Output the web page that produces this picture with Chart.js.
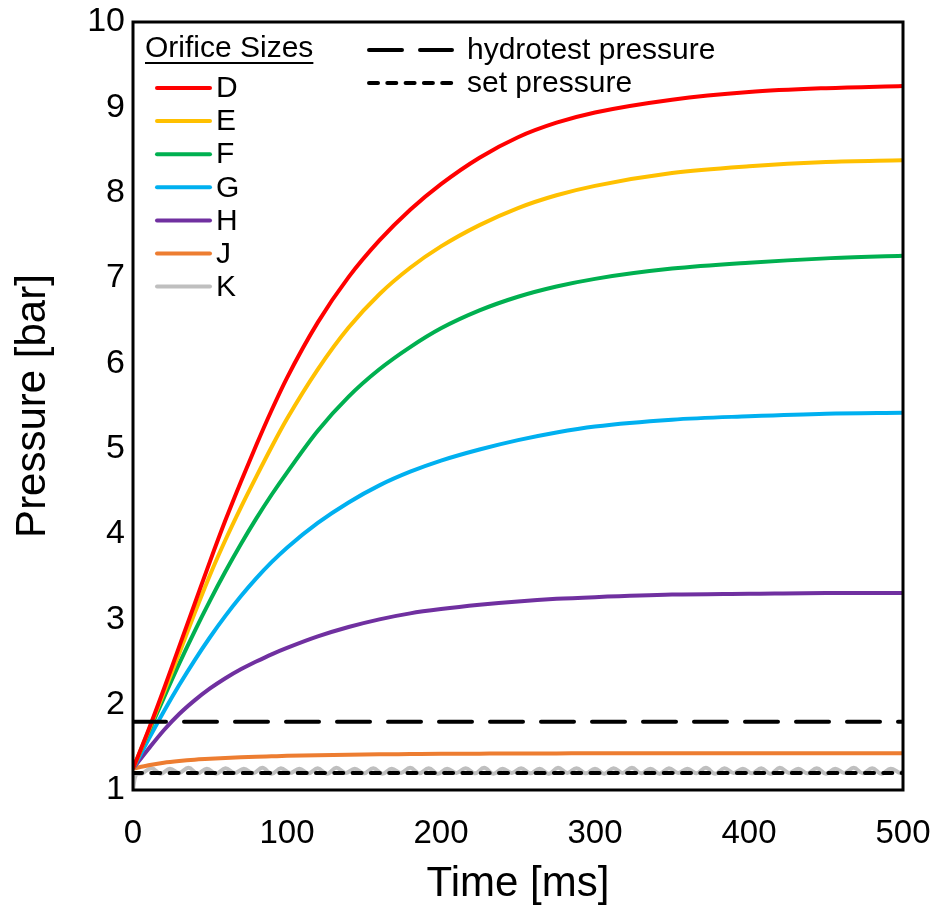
<!DOCTYPE html>
<html>
<head>
<meta charset="utf-8">
<script src="https://cdn.jsdelivr.net/npm/chart.js@4.4.1/dist/chart.umd.min.js"></script>
<style>
  html, body { margin: 0; padding: 0; background: #fff; }
  #wrap { width: 938px; height: 920px; }
</style>
</head>
<body>
<div id="wrap"><canvas id="c" width="938" height="920"></canvas></div>
<script>
// ---- data ----
const timeMs = [0, 10, 20, 30, 40, 50, 60, 70, 80, 90, 100, 120, 140, 160, 180, 200, 225, 250, 275, 300, 350, 400, 450, 500];
const orificeD = [1.25, 1.70, 2.18, 2.68, 3.18, 3.68, 4.16, 4.61, 5.04, 5.45, 5.83, 6.48, 7.01, 7.44, 7.80, 8.10, 8.41, 8.65, 8.82, 8.94, 9.09, 9.18, 9.225, 9.25];
const orificeE = [1.25, 1.69, 2.14, 2.60, 3.07, 3.52, 3.93, 4.31, 4.67, 5.02, 5.35, 5.93, 6.42, 6.81, 7.12, 7.37, 7.62, 7.82, 7.97, 8.08, 8.23, 8.31, 8.36, 8.38];
const orificeF = [1.25, 1.67, 2.08, 2.48, 2.86, 3.22, 3.56, 3.88, 4.18, 4.46, 4.72, 5.21, 5.61, 5.93, 6.19, 6.41, 6.62, 6.78, 6.90, 6.99, 7.11, 7.18, 7.23, 7.26];
const orificeG = [1.25, 1.59, 1.92, 2.23, 2.52, 2.79, 3.04, 3.27, 3.48, 3.67, 3.84, 4.13, 4.37, 4.57, 4.73, 4.86, 4.99, 5.10, 5.19, 5.26, 5.34, 5.38, 5.41, 5.42];
const orificeH = [1.25, 1.48, 1.70, 1.89, 2.05, 2.19, 2.31, 2.415, 2.505, 2.59, 2.665, 2.80, 2.91, 3.00, 3.07, 3.12, 3.17, 3.21, 3.24, 3.26, 3.29, 3.30, 3.31, 3.31];
const orificeJ = [1.25, 1.29, 1.32, 1.34, 1.355, 1.365, 1.375, 1.383, 1.39, 1.395, 1.4, 1.408, 1.414, 1.418, 1.421, 1.424, 1.426, 1.428, 1.429, 1.43, 1.43, 1.43, 1.43, 1.43];
const timeK = [0, 2, 6, 12, 18, 24, 30, 36, 42, 48, 54, 60, 66, 72, 78, 84, 90, 96, 102, 108, 114, 120, 126, 132, 138, 144, 150, 156, 162, 168, 174, 180, 186, 192, 198, 204, 210, 216, 222, 228, 234, 240, 246, 252, 258, 264, 270, 276, 282, 288, 294, 300, 306, 312, 318, 324, 330, 336, 342, 348, 354, 360, 366, 372, 378, 384, 390, 396, 402, 408, 414, 420, 426, 432, 438, 444, 450, 456, 462, 468, 474, 480, 486, 492, 498, 500];
const orificeK = [1.0, 1.18,
  1.195, 1.255, 1.19, 1.25, 1.2, 1.26, 1.195, 1.25, 1.19, 1.255,
  1.2, 1.25, 1.195, 1.26, 1.19, 1.255, 1.2, 1.25, 1.195, 1.255,
  1.19, 1.26, 1.2, 1.25, 1.195, 1.255, 1.19, 1.25, 1.2, 1.26,
  1.195, 1.255, 1.19, 1.25, 1.2, 1.255, 1.195, 1.26, 1.19, 1.25,
  1.2, 1.255, 1.195, 1.25, 1.19, 1.26, 1.2, 1.255, 1.195, 1.25,
  1.19, 1.255, 1.2, 1.26, 1.195, 1.25, 1.19, 1.255, 1.2, 1.25,
  1.195, 1.26, 1.19, 1.255, 1.2, 1.25, 1.195, 1.255, 1.19, 1.26,
  1.2, 1.25, 1.195, 1.255, 1.19, 1.25, 1.2, 1.26, 1.195, 1.255,
  1.19, 1.25, 1.2,
  1.22];
const refTime = [0, 500];
const hydrotestPressure = [1.8, 1.8];
const setPressure = [1.2, 1.2];
const xTicks = [0, 100, 200, 300, 400, 500];
const yTicks = [1, 2, 3, 4, 5, 6, 7, 8, 9, 10];
const orificeNames = ['D', 'E', 'F', 'G', 'H', 'J', 'K'];

// ---- styling ----
const FONT = '"Liberation Sans", Arial, sans-serif';
const colors = { D: '#FF0000', E: '#FFC000', F: '#00B050', G: '#00B0F0', H: '#7030A0', J: '#ED7D31', K: '#BFBFBF' };
const HYDRO_DASH = [33, 18];
const SET_DASH = [9, 9.3];

const pts = (xs, ys) => xs.map((x, i) => ({ x: x, y: ys[i] }));

const curveSets = [
  ['D', orificeD], ['E', orificeE], ['F', orificeF], ['G', orificeG], ['H', orificeH], ['J', orificeJ]
].map(([n, v]) => ({
  label: n, data: pts(timeMs, v), borderColor: colors[n], borderWidth: 4,
  pointRadius: 0, cubicInterpolationMode: 'monotone', fill: false, order: 1
}));

const datasets = [
  { label: 'hydrotest pressure', data: pts(refTime, hydrotestPressure), borderColor: '#000', borderWidth: 4,
    borderDash: HYDRO_DASH, borderCapStyle: 'round', pointRadius: 0, order: 0 },
  { label: 'set pressure', data: pts(refTime, setPressure), borderColor: '#000', borderWidth: 4,
    borderDash: SET_DASH, borderCapStyle: 'round', pointRadius: 0, order: 0 },
  ...curveSets,
  { label: 'K', data: pts(timeK, orificeK), borderColor: colors.K, borderWidth: 4, pointRadius: 0,
    tension: 0.4, fill: false, order: 2 }
];

const boxPlugin = {
  id: 'box',
  afterDatasetsDraw(chart) {
    const { ctx, chartArea: a } = chart;
    ctx.save();
    ctx.strokeStyle = '#000';
    ctx.lineWidth = 3;
    ctx.setLineDash([]);
    ctx.strokeRect(a.left, a.top, a.right - a.left, a.bottom - a.top);
    ctx.restore();
  }
};

const legendPlugin = {
  id: 'customLegend',
  afterDraw(chart) {
    const ctx = chart.ctx;
    ctx.save();
    ctx.font = '30px ' + FONT;
    ctx.fillStyle = '#000';
    ctx.textBaseline = 'middle';
    ctx.textAlign = 'left';
    const title = 'Orifice Sizes';
    ctx.fillText(title, 145, 49);
    const tw = ctx.measureText(title).width;
    ctx.fillRect(145, 62, tw, 2);
    orificeNames.forEach((n, i) => {
      const y = 88 + i * 33.1;
      ctx.strokeStyle = colors[n];
      ctx.lineWidth = 4;
      ctx.lineCap = 'round';
      ctx.setLineDash([]);
      ctx.beginPath(); ctx.moveTo(157, y); ctx.lineTo(210, y); ctx.stroke();
      ctx.fillStyle = '#000';
      ctx.fillText(n, 216, y + 1);
    });
    const refs = [['hydrotest pressure', 50, HYDRO_DASH], ['set pressure', 83, SET_DASH]];
    refs.forEach(([t, y, dash]) => {
      ctx.strokeStyle = '#000';
      ctx.lineWidth = 4;
      ctx.lineCap = 'round';
      ctx.setLineDash(dash);
      ctx.beginPath(); ctx.moveTo(369, y); ctx.lineTo(452, y); ctx.stroke();
      ctx.setLineDash([]);
      ctx.fillText(t, 467, y + 1);
    });
    ctx.restore();
  }
};

new Chart(document.getElementById('c'), {
  type: 'line',
  data: { datasets },
  options: {
    responsive: false,
    animation: false,
    devicePixelRatio: 1,
    layout: { padding: { top: 22, right: 35, left: 0, bottom: 0 } },
    plugins: { legend: { display: false }, tooltip: { enabled: false } },
    scales: {
      x: {
        type: 'linear', min: 0, max: 500,
        afterBuildTicks: (s) => { s.ticks = xTicks.map(v => ({ value: v })); },
        afterFit: (s) => { s.height = 130; s.paddingLeft = 0; s.paddingRight = 0; },
        ticks: { color: '#000', font: { family: FONT, size: 33 }, padding: 24, maxRotation: 0 },
        grid: { display: false, drawTicks: false },
        border: { display: false },
        title: { display: true, text: 'Time [ms]', color: '#000', font: { family: FONT, size: 42 }, padding: { top: 0, bottom: 10 } }
      },
      y: {
        type: 'linear', min: 1, max: 10,
        afterBuildTicks: (s) => { s.ticks = yTicks.map(v => ({ value: v })); },
        afterFit: (s) => { s.width = 133; s.paddingTop = 0; s.paddingBottom = 0; },
        ticks: { color: '#000', font: { family: FONT, size: 34 }, padding: 8 },
        grid: { display: false, drawTicks: false },
        border: { display: false },
        title: { display: true, text: 'Pressure [bar]', color: '#000', font: { family: FONT, size: 42 }, padding: { top: 8, bottom: 0 } }
      }
    }
  },
  plugins: [boxPlugin, legendPlugin]
});
</script>
</body>
</html>
